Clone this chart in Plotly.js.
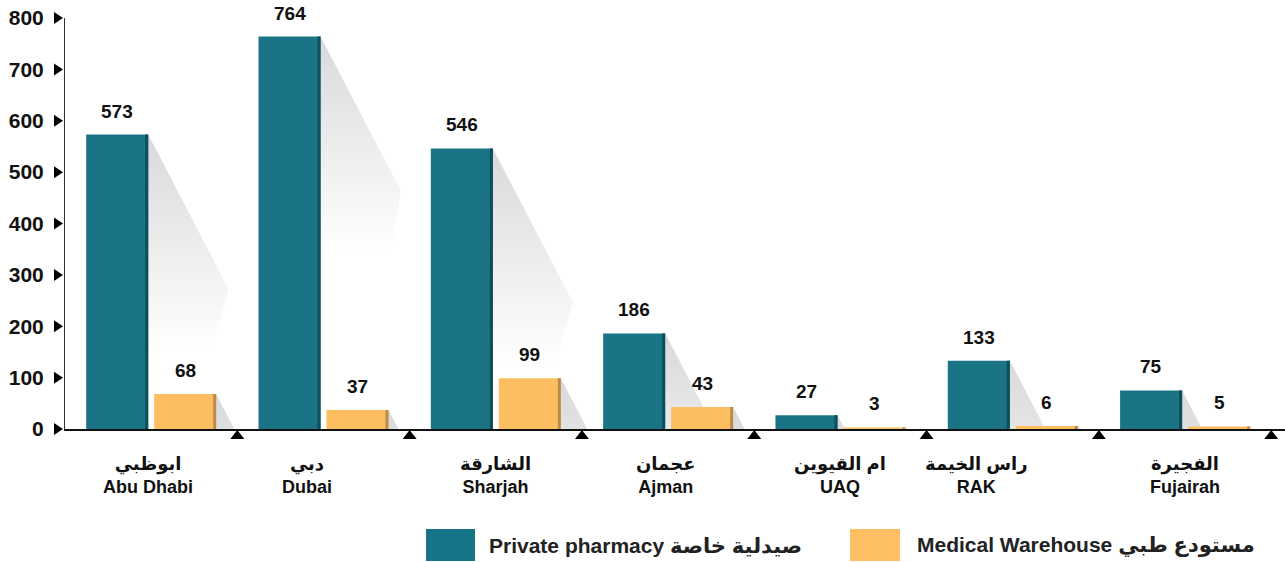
<!DOCTYPE html>
<html>
<head>
<meta charset="utf-8">
<script src="https://cdn.plot.ly/plotly-3.0.1.min.js"></script>
<style>
  html, body { margin: 0; padding: 0; background: #ffffff; }
  #chart { width: 1285px; height: 562px; }
</style>
</head>
<body>
<div id="chart"></div>
<script>
// ---- data ----
const categoriesEn = ['Abu Dhabi', 'Dubai', 'Sharjah', 'Ajman', 'UAQ', 'RAK', 'Fujairah'];
const categoriesAr = ['ابوظبي', 'دبي', 'الشارقة', 'عجمان', 'ام القيوين', 'راس الخيمة', 'الفجيرة'];
const privatePharmacy = [573, 764, 546, 186, 27, 133, 75];
const medicalWarehouse = [68, 37, 99, 43, 3, 6, 5];
const yTickValues = [0, 100, 200, 300, 400, 500, 600, 700, 800];
const seriesNames = ['Private pharmacy صيدلية خاصة', 'Medical Warehouse مستودع طبي'];

// ---- style ----
const TEAL = '#1b7485', TEAL_EDGE = '#0d4e5a';
const ORANGE = '#fdbe62', ORANGE_EDGE = '#bb8c4b';
const FONT = 'Liberation Sans, Arial, DejaVu Sans, sans-serif';
const labelShift = [-3, -16, 0, -3, 0, -36, 0];
const X_RANGE = [-0.5, 6.58];
const Y_RANGE = [0, 800];
const BAR_W = 0.36, EDGE_W = 0.0174;
const OFF_A = -0.377, OFF_B = 0.0174;

const xs = categoriesEn.map((_, i) => i);

// plot geometry (pixels) for paper conversions
const M = { l: 65, r: 0, t: 18, b: 133 };
const W = 1285, H = 562;
const pw = W - M.l - M.r, ph = H - M.t - M.b;
const px2paperX = p => (p - M.l) / pw;
const px2paperY = p => (H - M.b - p) / ph;
const data2paperX = x => (x - X_RANGE[0]) / (X_RANGE[1] - X_RANGE[0]);
const data2paperY = y => (y - Y_RANGE[0]) / (Y_RANGE[1] - Y_RANGE[0]);

// ---- shadow polygons (decorative, derived from values) ----
const SLOPE = 0.00155, CAP = 300;
function shadowTrace(xr, v) {
  let px, py;
  if (v <= CAP) {
    px = [xr, xr + SLOPE * v, xr, xr];
    py = [v, 0, 0, v];
  } else {
    px = [xr, xr + SLOPE * CAP, xr + SLOPE * CAP * 0.55, xr, xr];
    py = [v, v - CAP, 0, 0, v];
  }
  return {
    type: 'scatter', x: px, y: py, mode: 'none', fill: 'toself',
    fillgradient: {
      type: 'vertical',
      start: v - 420, stop: v,
      colorscale: [[0, 'rgba(255,255,255,1)'], [1, 'rgba(216,217,218,1)']]
    },
    showlegend: false, hoverinfo: 'skip', xaxis: 'x', yaxis: 'y'
  };
}

const traces = [];
xs.forEach((x, i) => {
  traces.push(shadowTrace(x + OFF_A + BAR_W, privatePharmacy[i]));
  traces.push(shadowTrace(x + OFF_B + BAR_W, medicalWarehouse[i]));
});

function barTrace(y, color, offset, width, name) {
  return {
    type: 'bar', x: xs, y: y, offset: offset, width: width,
    marker: { color: color, line: { width: 0 } },
    name: name, showlegend: false, hoverinfo: 'skip',
    xaxis: 'x2', yaxis: 'y2'
  };
}
traces.push(barTrace(privatePharmacy, TEAL, OFF_A, BAR_W, seriesNames[0]));
traces.push(barTrace(privatePharmacy, TEAL_EDGE, OFF_A + BAR_W - EDGE_W, EDGE_W, seriesNames[0]));
traces.push(barTrace(medicalWarehouse, ORANGE, OFF_B, BAR_W, seriesNames[1]));
traces.push(barTrace(medicalWarehouse, ORANGE_EDGE, OFF_B + BAR_W - EDGE_W, EDGE_W, seriesNames[1]));

// ---- annotations ----
const annotations = [];
const valFont = { family: FONT, size: 19, color: '#111111', weight: 'bold' };
xs.forEach((x, i) => {
  annotations.push({ x: x + OFF_A + BAR_W / 2, y: privatePharmacy[i], xref: 'x', yref: 'y',
    text: String(privatePharmacy[i]), showarrow: false, yanchor: 'bottom', yshift: 11, font: valFont });
  annotations.push({ x: x + OFF_B + BAR_W / 2, y: medicalWarehouse[i], xref: 'x', yref: 'y',
    text: String(medicalWarehouse[i]), showarrow: false, yanchor: 'bottom', yshift: 11, font: valFont });
  annotations.push({ x: x, y: 0, xref: 'x', yref: 'y', xshift: labelShift[i],
    text: categoriesAr[i] + '<br>' + categoriesEn[i], showarrow: false,
    yanchor: 'top', yshift: -23, align: 'center',
    font: { family: FONT, size: 18, color: '#111111', weight: 'bold' } });
});

// legend (custom)
const legendItems = [
  { color: '#177488', x0: 426, x1: 475, tx: 487, text: seriesNames[0] },
  { color: '#fdbf62', x0: 850, x1: 900, tx: 915, text: seriesNames[1] }
];
const shapes = [];
legendItems.forEach(it => {
  shapes.push({ type: 'rect', xref: 'paper', yref: 'paper',
    x0: px2paperX(it.x0), x1: px2paperX(it.x1), y0: px2paperY(561), y1: px2paperY(529),
    fillcolor: it.color, line: { width: 0 } });
  annotations.push({ xref: 'paper', yref: 'paper', x: px2paperX(it.tx), y: px2paperY(545),
    xanchor: 'left', yanchor: 'middle', text: it.text, showarrow: false,
    font: { family: FONT, size: 21, color: '#222222', weight: 'bold' } });
});

// y-axis triangle markers
yTickValues.forEach(v => {
  shapes.push({ type: 'path', xref: 'paper', xsizemode: 'pixel', xanchor: 0,
    yref: 'paper', ysizemode: 'pixel', yanchor: data2paperY(v),
    path: 'M-11,6 L-11,-6 L-2,0 Z', fillcolor: '#000000', line: { width: 0 } });
});
// x-axis boundary triangles
xs.forEach(x => {
  shapes.push({ type: 'path', xref: 'paper', xsizemode: 'pixel', xanchor: data2paperX(x + 0.5),
    yref: 'paper', ysizemode: 'pixel', yanchor: 0,
    path: 'M-7,-10 L7,-10 L0,-1 Z', fillcolor: '#000000', line: { width: 0 } });
});

const layout = {
  width: W, height: H,
  margin: M,
  paper_bgcolor: '#ffffff', plot_bgcolor: '#ffffff',
  showlegend: false,
  barmode: 'overlay',
  hovermode: false,
  xaxis: {
    range: X_RANGE, showgrid: false, zeroline: false,
    showline: true, linecolor: '#111111', linewidth: 1.5,
    showticklabels: false, ticks: '', fixedrange: true
  },
  yaxis: {
    range: Y_RANGE, showgrid: false, zeroline: false,
    showline: true, linecolor: '#333333', linewidth: 1,
    tickmode: 'array', tickvals: yTickValues, ticktext: yTickValues.map(String),
    ticks: '', ticklabelstandoff: 16,
    tickfont: { family: FONT, size: 21, color: '#111111', weight: 'bold' },
    fixedrange: true
  },
  xaxis2: { overlaying: 'x', range: X_RANGE, visible: false, fixedrange: true },
  yaxis2: { overlaying: 'y', range: Y_RANGE, visible: false, fixedrange: true },
  annotations: annotations,
  shapes: shapes
};

Plotly.newPlot('chart', traces, layout, { staticPlot: true, displayModeBar: false });
</script>
</body>
</html>
